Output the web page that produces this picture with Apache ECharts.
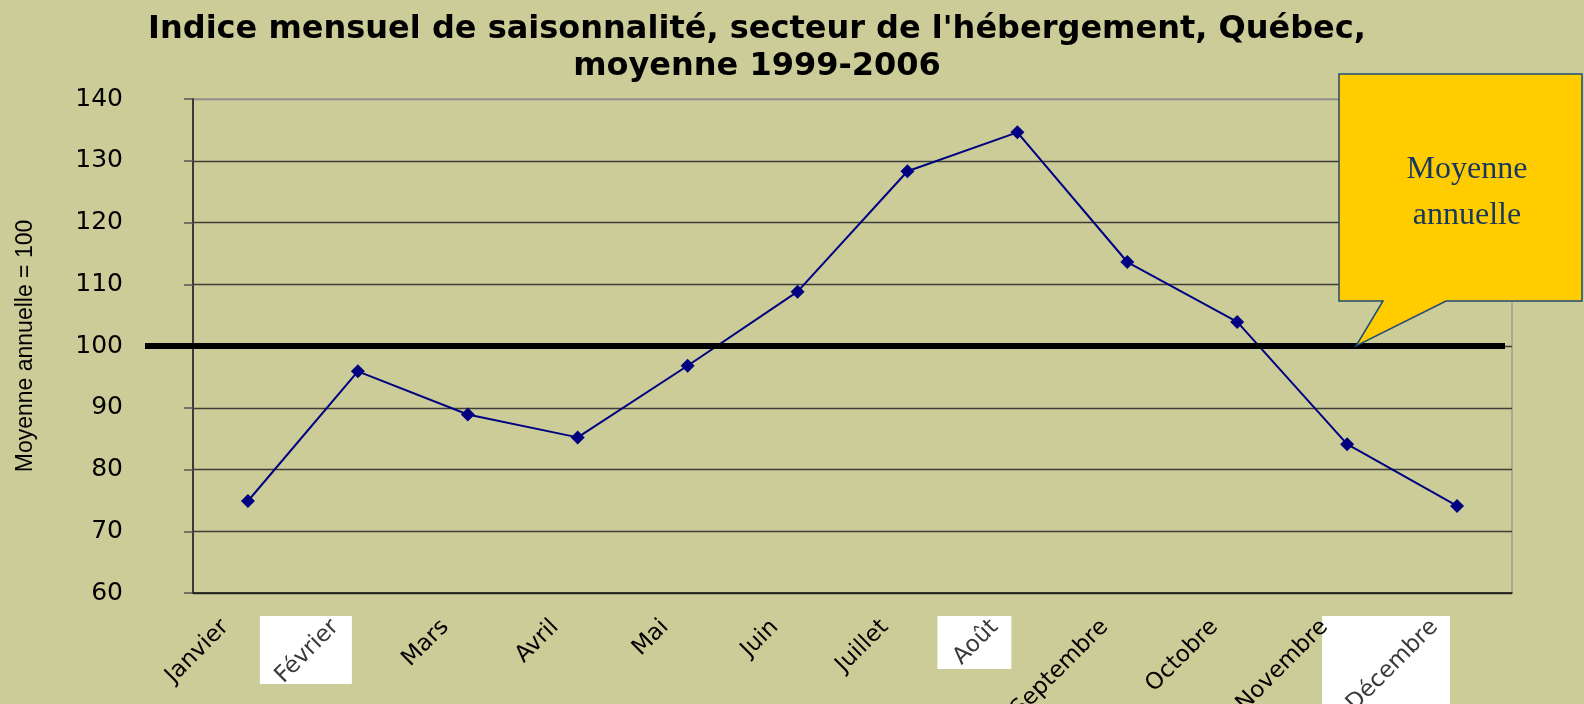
<!DOCTYPE html>
<html>
<head>
<meta charset="utf-8">
<title>Indice mensuel de saisonnalité</title>
<script src="https://cdn.jsdelivr.net/npm/echarts@6/dist/echarts.min.js"></script>
<style>
  html, body { margin: 0; padding: 0; background: #cccc99; }
  #chart { width: 1584px; height: 704px; }
</style>
</head>
<body>
<div id="chart"></div>
<script>
// données
const months = ['Janvier', 'Février', 'Mars', 'Avril', 'Mai', 'Juin',
    'Juillet', 'Août', 'Septembre', 'Octobre', 'Novembre', 'Décembre'];
const indexValues = [74.9, 95.9, 88.9, 85.2, 96.8, 108.8, 128.3, 134.6, 113.6, 103.9, 84.1, 74.1];
const yTicks = [60, 70, 80, 90, 100, 110, 120, 130, 140];
const annualMean = 100;

// étiquettes collées en image dans l'original (fond blanc)
const pastedLabels = {
    'Février': { dx0: -98, dx1: -6, dy1: 91 },
    'Août': { dx0: -80, dx1: -6, dy1: 76 },
    'Décembre': { dx0: -135, dx1: -7, dy1: 114 }
};

const chart = echarts.init(document.getElementById('chart'));

const option = {
    backgroundColor: '#cccc99',
    title: {
        text: "Indice mensuel de saisonnalité, secteur de l'hébergement, Québec,\nmoyenne 1999-2006",
        left: 757,
        top: 6,
        textAlign: 'center',
        padding: [5, 0, 5, 0],
        textStyle: {
            fontFamily: 'DejaVu Sans',
            fontSize: 32,
            fontWeight: 'bold',
            lineHeight: 37,
            color: '#000'
        }
    },
    grid: {
        left: 193,
        right: 72,
        top: 99,
        bottom: 111,
        outerBoundsMode: 'none',
        containLabel: false,
        show: true,
        borderColor: '#8a8a8a',
        borderWidth: 1
    },
    xAxis: {
        type: 'category',
        data: months,
        boundaryGap: true,
        axisLine: { lineStyle: { color: '#1a1a1a', width: 1.5 } },
        axisTick: { length: 7, lineStyle: { color: '#1a1a1a', width: 1.5 } },
        axisLabel: {
            interval: 0,
            rotate: 45,
            margin: 8,
            padding: [0, 32, 0, 0],
            fontFamily: 'DejaVu Sans',
            fontSize: 23,
            color: function (value) {
                return pastedLabels[value] ? '#3a3a3a' : '#000';
            }
        },
        z: 5
    },
    yAxis: {
        type: 'value',
        min: yTicks[0],
        max: yTicks[yTicks.length - 1],
        interval: 10,
        name: 'Moyenne annuelle = 100',
        nameLocation: 'middle',
        nameGap: 156,
        nameTextStyle: {
            fontFamily: "'Liberation Sans', sans-serif",
            fontSize: 23,
            color: '#000'
        },
        axisLine: { show: true, lineStyle: { color: '#3a3a3a', width: 2 } },
        axisTick: { show: true, length: 9, lineStyle: { color: '#555', width: 1.5 } },
        axisLabel: {
            margin: 70,
            fontFamily: 'DejaVu Sans',
            fontSize: 25,
            color: '#000'
        },
        splitLine: {
            lineStyle: {
                color: ['#333', '#3e3e38', '#3e3e38', '#3e3e38', '#3e3e38', '#3e3e38', '#3e3e38', '#3e3e38', '#8a8a8a'],
                width: 1.3
            }
        }
    },
    series: [{
        name: 'Indice',
        type: 'line',
        data: indexValues,
        symbol: 'diamond',
        symbolSize: 14,
        lineStyle: { color: '#000080', width: 2 },
        itemStyle: { color: '#000080' },
        z: 3
    }]
};

chart.setOption(option);

function drawOverlays() {
    const axisY = chart.convertToPixel({ yAxisIndex: 0 }, yTicks[0]);
    const meanY = chart.convertToPixel({ yAxisIndex: 0 }, annualMean);
    const elements = [];

    // fonds blancs des étiquettes collées
    Object.keys(pastedLabels).forEach(function (m) {
        const b = pastedLabels[m];
        const cx = chart.convertToPixel({ xAxisIndex: 0 }, m);
        elements.push({
            type: 'rect',
            z: -10,
            silent: true,
            shape: { x: cx + b.dx0, y: axisY + 23, width: b.dx1 - b.dx0, height: b.dy1 - 23 },
            style: { fill: '#fff' }
        });
    });

    // trait épais de la moyenne annuelle
    elements.push({
        type: 'line',
        z: 50,
        silent: true,
        shape: { x1: 145, y1: meanY, x2: 1505, y2: meanY },
        style: { stroke: '#000', lineWidth: 6 }
    });

    // bulle "Moyenne annuelle"
    const tipX = 1356;
    const boxTop = 74, boxBottom = 301, boxLeft = 1339, boxRight = 1582;
    elements.push({
        type: 'polygon',
        z: 60,
        silent: true,
        shape: {
            points: [
                [boxLeft, boxTop], [boxRight, boxTop], [boxRight, boxBottom],
                [1446, boxBottom], [tipX, meanY], [1383, boxBottom], [boxLeft, boxBottom]
            ]
        },
        style: { fill: '#ffcc00', stroke: '#1f4a78', lineWidth: 1.5 }
    });
    elements.push({
        type: 'text',
        z: 61,
        silent: true,
        x: 1467,
        y: 193,
        style: {
            text: 'Moyenne\nannuelle',
            fontFamily: "'Liberation Serif', 'DejaVu Serif', serif",
            fontSize: 32,
            lineHeight: 46,
            fill: '#17375e',
            align: 'center',
            verticalAlign: 'middle'
        }
    });

    chart.setOption({ graphic: elements });
}

drawOverlays();

window.addEventListener('resize', function () {
    chart.resize();
    drawOverlays();
});
</script>
</body>
</html>
